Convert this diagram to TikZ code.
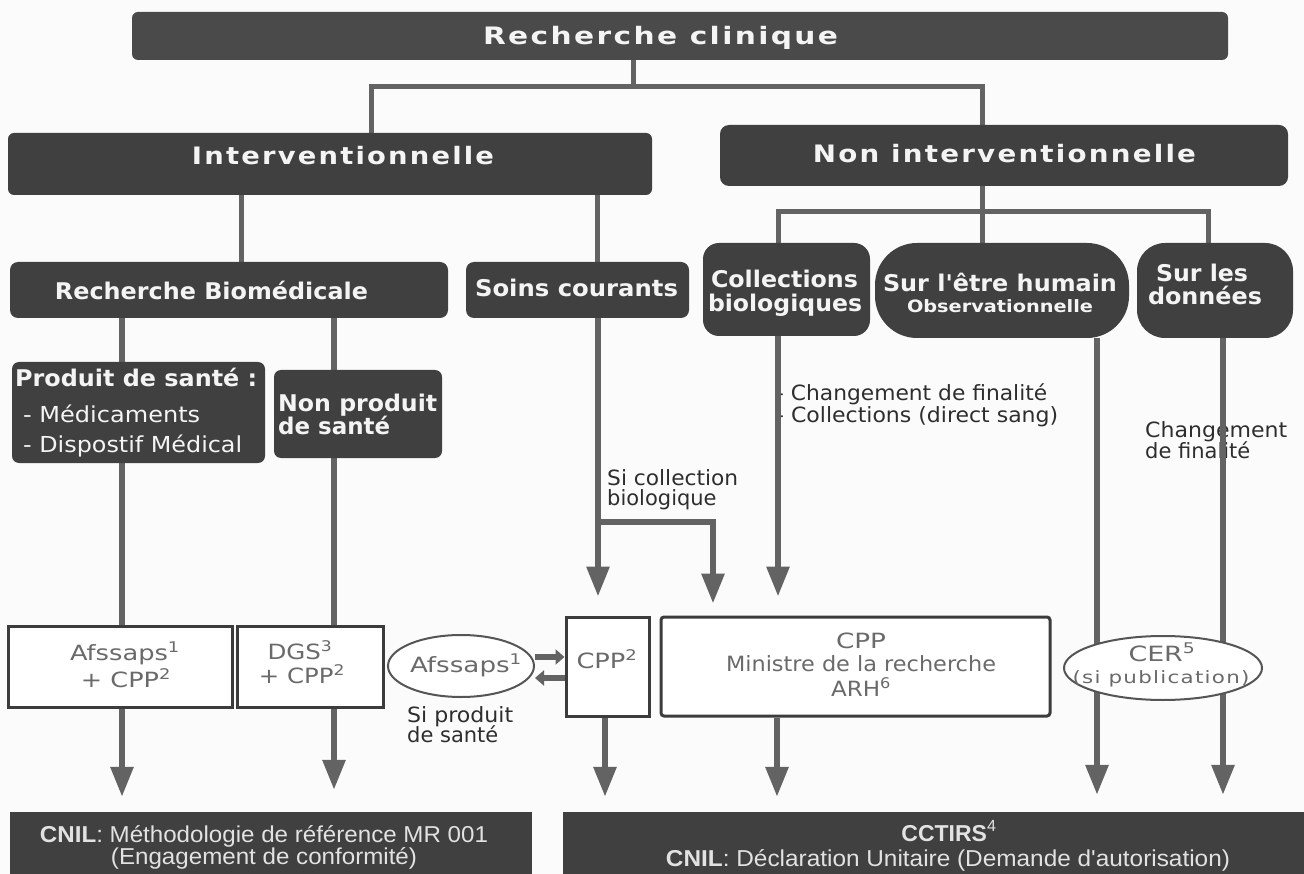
\documentclass[tikz,border=0pt]{standalone}
\usepackage{fontspec}
\usepackage{graphicx}
\setmainfont{DejaVu Sans}
\newfontfamily\hdsp{DejaVu Sans}[LetterSpace=8]
\newfontfamily\spsm{DejaVu Sans}[LetterSpace=6]
\newfontfamily\arialf{Liberation Sans}
\usetikzlibrary{arrows.meta,shapes.geometric}
\pgfdeclarelayer{layzero}
\pgfdeclarelayer{layone}
\pgfsetlayers{layzero,layone,main}
\newcommand\sw[2]{\resizebox{#1pt}{\height}{#2}}
\newcommand\fsz[1]{\fontsize{#1pt}{#1pt}\selectfont}
\definecolor{dk}{HTML}{404040}
\definecolor{dkt}{HTML}{4A4A4A}
\definecolor{lc}{HTML}{636363}
\definecolor{bd}{HTML}{3C3C3C}
\definecolor{eb}{HTML}{555555}
\definecolor{gt}{HTML}{6A6A6A}
\definecolor{lt}{HTML}{2E2E2E}
\definecolor{wt}{HTML}{F4F4F4}
\definecolor{bt}{HTML}{E2E2E2}
\definecolor{bgc}{HTML}{FBFBFB}
\begin{document}
\begin{tikzpicture}[x=1pt,y=-1pt,
  dbox/.style={fill=dk,draw=none,inner sep=0pt},
  wbox/.style={fill=white,draw=bd,line width=3pt,inner sep=0pt},
  ebox/.style={ellipse,fill=white,draw=eb,line width=2pt,inner sep=0pt},
  tx/.style={inner sep=0pt,anchor=base},
  txl/.style={inner sep=0pt,anchor=base west},
  hsp/.style={tx,text=wt,font=\hdsp\fsz{24}\bfseries},
  hw/.style={tx,text=wt,font=\fsz{23}\bfseries},
  hwl/.style={txl,text=wt,font=\fsz{23}\bfseries},
  rwl/.style={txl,text=wt,font=\fsz{22}},
  gray/.style={tx,text=gt,font=\fsz{21}},
  lab/.style={txl,text=lt,font=\fsz{21}},
  botx/.style={tx,text=bt,font=\arialf\fsz{23}},
  tree/.style={draw=lc,line width=5pt},
  conn/.style={draw=lc,line width=6pt},
  arr/.style={draw=lc,line width=6pt,-{Triangle[width=22pt,length=30pt]}},
  darr/.style={draw=lc,line width=6pt,-{Triangle[width=15pt,length=9pt]}}
]
\begin{pgfonlayer}{layzero}
\fill[bgc] (0,0) rectangle (1304,874);
\end{pgfonlayer}
\useasboundingbox (0,0) rectangle (1304,874);

% ---------- boxes ----------
\node[dbox,fill=dkt,rounded corners=6pt,minimum width=1096pt,minimum height=48pt] (title) at (680,36) {};
\node[dbox,rounded corners=6pt,minimum width=644pt,minimum height=62pt] (interv) at (330,164) {};
\node[dbox,rounded corners=9pt,minimum width=568pt,minimum height=61pt] (nonint) at (1004,155.5) {};
\node[dbox,rounded corners=8pt,minimum width=438pt,minimum height=56pt] (rbio) at (229,290) {};
\node[dbox,rounded corners=8pt,minimum width=223pt,minimum height=56pt] (soins) at (577.5,290) {};
\node[dbox,rounded corners=16pt,minimum width=167pt,minimum height=93pt] (coll) at (786.5,289.5) {};
\node[dbox,rounded corners=42pt,minimum width=254pt,minimum height=95pt] (humain) at (1002,290.5) {};
\node[dbox,rounded corners=28pt,minimum width=156pt,minimum height=95pt] (donnees) at (1215,290.5) {};
\node[dbox,rounded corners=7pt,minimum width=253pt,minimum height=101pt] (produit) at (138.5,412.5) {};
\node[dbox,rounded corners=7pt,minimum width=168pt,minimum height=88pt] (nonprod) at (358,414) {};
\node[wbox,minimum width=224pt,minimum height=81pt] (b1) at (120,666.5) {};
\node[wbox,minimum width=146pt,minimum height=81pt] (b2) at (310,666.5) {};
\node[ebox,minimum width=146pt,minimum height=62pt] (afs) at (461,666) {};
\node[wbox,minimum width=83pt,minimum height=99pt] (cpp) at (607.5,666.5) {};
\node[wbox,rounded corners=3pt,minimum width=389pt,minimum height=99pt] (mini) at (855.5,666.5) {};
\node[ebox,minimum width=198pt,minimum height=64pt] (cer) at (1163,668) {};
\node[dbox,minimum width=522pt,minimum height=62pt] (botL) at (271,843) {};
\node[dbox,minimum width=741pt,minimum height=62pt] (botR) at (933.5,843) {};

% ---------- texts in boxes ----------
\node[hsp] (t1) at (660.5,45) {\sw{355}{Recherche clinique}};
\node[hsp] (t2) at (343,165) {\sw{302}{Interventionnelle}};
\node[hsp] (t3) at (1004.5,163) {\sw{383}{Non interventionnelle}};
\node[hw] (t4) at (211.5,300) {\sw{313}{Recherche Biomédicale}};
\node[hw] (t5) at (576.5,297) {\sw{203}{Soins courants}};
\node[hw] (t6a) at (784.5,288) {\sw{147}{Collections}};
\node[hw] (t6b) at (785,312) {\sw{154}{biologiques}};
\node[hw] (t7a) at (1000,292) {\sw{234}{Sur l\textquotesingle être humain}};
\node[tx,text=wt,font=\fsz{17}\bfseries] (t7b) at (1000,313) {\sw{186}{Observationnelle}};
\node[hw] (t8a) at (1202,282) {\sw{92}{Sur les}};
\node[hw] (t8b) at (1205,305) {\sw{114}{données}};
\node[hwl] (t9) at (15,387) {\sw{242}{Produit de santé :}};
\node[rwl] (t10) at (23,423) {\sw{177}{- Médicaments}};
\node[rwl] (t11) at (23,452) {\sw{219}{- Dispostif Médical}};
\node[hwl] (t12) at (278,412) {\sw{159}{Non produit}};
\node[hwl] (t13) at (278,434) {\sw{112}{de santé}};

\node[gray] (t14) at (125,660) {\sw{110}{Afssaps\textsuperscript{1}}};
\node[gray] (t15) at (126,687) {\sw{90}{+ CPP\textsuperscript{2}}};
\node[gray] (t16) at (300,659) {\sw{65}{DGS\textsuperscript{3}}};
\node[gray] (t17) at (302,683) {\sw{86}{+ CPP\textsuperscript{2}}};
\node[gray] (t18) at (466,672) {\sw{112}{Afssaps\textsuperscript{1}}};
\node[gray] (t19) at (607,668) {\sw{61}{CPP\textsuperscript{2}}};
\node[gray] (t20) at (861,648) {\sw{50}{CPP}};
\node[gray] (t21) at (861,671) {\sw{270}{Ministre de la recherche}};
\node[gray] (t22) at (861,696) {\sw{60}{ARH\textsuperscript{6}}};
\node[gray] (t23) at (1162,661) {\sw{67}{CER\textsuperscript{5}}};
\node[tx,text=gt,font=\spsm\fsz{17}] (t24) at (1161,683) {\sw{177}{(si publication)}};

\node[botx] (t33) at (264,842) {\sw{448}{\textbf{CNIL}: Méthodologie de référence MR 001}};
\node[botx] (t34) at (264,864) {\sw{306}{(Engagement de conformité)}};
\node[botx] (t35) at (949,841) {\textbf{CCTIRS}\textsuperscript{4}};
\node[botx] (t36) at (948,866) {\sw{564}{\textbf{CNIL}: Déclaration Unitaire (Demande d\textquotesingle autorisation)}};

% ---------- free labels ----------
\node[lab] (t25) at (407,722) {\sw{106}{Si produit}};
\node[lab] (t26) at (407,742) {de santé};
\node[lab] (t27) at (607,485) {\sw{131}{Si collection}};
\node[lab] (t28) at (607,505) {biologique};
\begin{pgfonlayer}{layzero}
\node[lab] (t29) at (776,400) {\sw{271}{- Changement de finalité}};
\node[lab] (t30) at (776,422) {\sw{282}{- Collections (direct sang)}};
\node[lab] (t31) at (1145,437) {\sw{142}{Changement}};
\node[lab] (t32) at (1145,458) {de finalité};
\end{pgfonlayer}

% ---------- connectors ----------
\begin{pgfonlayer}{layone}
\coordinate (j0) at (633,87);
\coordinate (jL) at (371,87);
\coordinate (jR) at (982,87);
\draw[tree] (title.south -| j0) -- (j0);
\draw[tree] (interv.north -| jL) -- (jL) -- (jR) -- (nonint.north -| jR);
\coordinate (xa) at (241,0);
\coordinate (xb) at (597,0);
\draw[tree] (interv.south -| xa) -- (rbio.north -| xa);
\draw[tree] (interv.south -| xb) -- (soins.north -| xb);
\coordinate (k0) at (982,212);
\coordinate (k1) at (778,212);
\coordinate (k3) at (1208,212);
\draw[tree] (nonint.south -| k0) -- (k0);
\draw[tree] (coll.north -| k1) -- (k1) -- (k3) -- (donnees.north -| k3);
\draw[tree] (k0) -- (humain.north -| k0);

\coordinate (xc) at (122,0);
\coordinate (xd) at (334,0);
\draw[conn] (rbio.south -| xc) -- (produit.north -| xc);
\draw[conn] (rbio.south -| xd) -- (nonprod.north -| xd);
\draw[conn] (produit.south -| xc) -- (b1.north -| xc);
\draw[conn] (nonprod.south -| xd) -- (b2.north -| xd);
\path (botL.north -| xc) ++(0,-15) coordinate (e1);
\path (botL.north -| xd) ++(0,-22) coordinate (e2);
\draw[arr] (b1.south -| xc) -- (e1);
\draw[arr] (b2.south -| xd) -- (e2);

\coordinate (sj) at (598,522);
\coordinate (sk) at (713,522);
\path (cpp.north -| sj) ++(0,-19) coordinate (e3);
\path (mini.north -| sk) ++(0,-12) coordinate (e4);
\draw[arr] (soins.south -| sj) -- (e3);
\draw[arr] (sj) -- (sk) -- (e4);
\coordinate (xe) at (778,0);
\path (mini.north -| xe) ++(0,-19) coordinate (e5);
\draw[arr] (coll.south -| xe) -- (e5);

\coordinate (ya) at (0,657);
\coordinate (yb) at (0,678);
\draw[darr] (afs.east |- ya) -- (cpp.west |- ya);
\draw[darr] (cpp.west |- yb) -- (afs.east |- yb);

\coordinate (xf) at (605,0);
\coordinate (xm) at (777,0);
\coordinate (xg) at (1097,0);
\coordinate (xh) at (1223,0);
\path (botR.north -| xf) ++(0,-15) coordinate (e6);
\path (botR.north -| xm) ++(0,-15) coordinate (e7);
\path (botR.north -| xg) ++(0,-17) coordinate (e8);
\path (botR.north -| xh) ++(0,-17) coordinate (e9);
\draw[arr] (cpp.south -| xf) -- (e6);
\draw[arr] (mini.south -| xm) -- (e7);
\draw[arr] (humain.south -| xg) -- (e8);
\draw[arr] (donnees.south -| xh) -- (e9);
\end{pgfonlayer}
\end{tikzpicture}
\end{document}
